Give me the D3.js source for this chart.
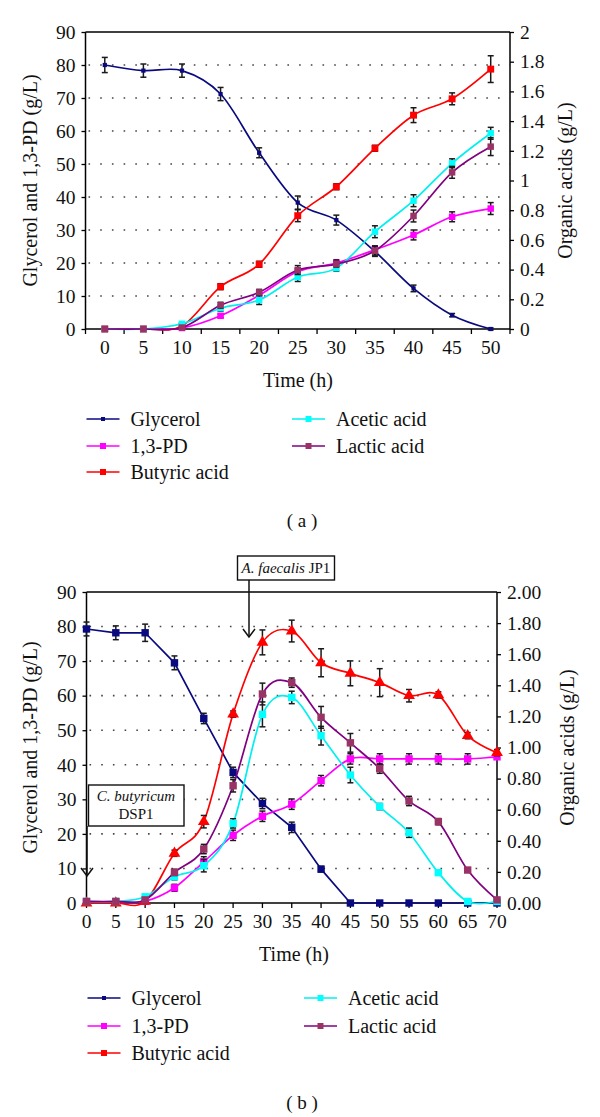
<!DOCTYPE html>
<html><head><meta charset="utf-8">
<script src="https://cdnjs.cloudflare.com/ajax/libs/d3/7.8.5/d3.min.js"></script>
<style>
html,body{margin:0;padding:0;background:#fff;}
svg text{font-family:"Liberation Serif","Times New Roman",serif;fill:#111;}
</style></head>
<body><svg id="c" width="600" height="1117"></svg>
<script>
// ---------- data: panel (a) ----------
const timesA = [0,5,10,15,20,25,30,35,40,45,50];
const glycerolA    = [80,78.3,78.3,71.2,53.4,38.3,33,23.5,12.3,4.2,0];
const glycerolAErr = [2.3,2,2,2,1.5,2,1.5,1.5,1,0.5,0.3];
const pdA          = [0,0,0.3,4,10.2,17.4,20,24,28.5,34,36.5];
const pdAErr       = [0,0,0,0.5,0.8,1,1,1.2,1.5,1.5,1.8];
const butyricA     = [0,0,0.02,0.285,0.436,0.763,0.958,1.217,1.44,1.55,1.75];
const butyricAErr  = [0,0,0,0.02,0.02,0.04,0.02,0.02,0.05,0.04,0.09];
const aceticA      = [0,0,0.035,0.14,0.195,0.35,0.41,0.655,0.864,1.116,1.318];
const aceticAErr   = [0,0,0,0.02,0.03,0.03,0.02,0.04,0.04,0.03,0.04];
const lacticA      = [0,0,0.01,0.16,0.247,0.397,0.437,0.527,0.761,1.055,1.228];
const lacticAErr   = [0,0,0,0.02,0.02,0.03,0.02,0.03,0.04,0.04,0.06];

// ---------- data: panel (b) ----------
const timesB = [0,5,10,15,20,25,30,35,40,45,50,55,60,65,70];
const glycerolB    = [79.3,78.2,78.2,69.5,53.4,37.8,28.8,21.9,9.8,0,0,0,0,0,0];
const glycerolBErr = [2,2,2.5,2,1.5,1.5,1.5,1.5,0.8,0,0,0,0,0,0];
const pdB          = [0.3,0.3,0.5,4.4,11.9,19.6,25.1,28.6,35.4,41.7,41.7,41.7,41.7,41.7,42.3];
const pdBErr       = [0,0,0.5,1,1.5,1.5,1.5,1.5,1.5,1.5,1.5,1.5,1.5,1.5,0];
const butyricB     = [0,0,0.01,0.32,0.523,1.215,1.676,1.749,1.545,1.477,1.417,1.333,1.338,1.076,0.967];
const butyricBErr  = [0,0,0,0.02,0.04,0.02,0.08,0.07,0.09,0.08,0.09,0.04,0.02,0.02,0.02];
const aceticB      = [0.01,0.01,0.04,0.169,0.24,0.512,1.213,1.322,1.076,0.823,0.62,0.452,0.195,0.01,0.01];
const aceticBErr   = [0,0,0,0.02,0.04,0.03,0.08,0.04,0.06,0.05,0.02,0.03,0.01,0,0];
const lacticB      = [0.01,0.01,0.02,0.197,0.347,0.754,1.344,1.417,1.194,1.03,0.864,0.656,0.523,0.212,0.02];
const lacticBErr   = [0,0,0,0.02,0.03,0.04,0.07,0.03,0.07,0.06,0.03,0.03,0.02,0.01,0];

const leftTicks = [0,10,20,30,40,50,60,70,80,90];
const rightTicksA = [0,0.2,0.4,0.6,0.8,1,1.2,1.4,1.6,1.8,2];
const rightTicksB = [0,0.2,0.4,0.6,0.8,1,1.2,1.4,1.6,1.8,2];
const seriesNames = ["Glycerol","1,3-PD","Butyric acid","Acetic acid","Lactic acid"];
const lineColors  = ["#0a0a80","#ff00ff","#ff0000","#00f0f0","#800080"];
const markColors  = ["#0a0a80","#ff00ff","#ff0000","#00ffff","#993366"];

const svg = d3.select("#c");
const FS = 19.5;
const TS = 20;

function panel(cfg){
  const g = svg.append("g");
  const yL = d3.scaleLinear().domain([0,90]).range([cfg.y1,cfg.y0]);
  const yR = d3.scaleLinear().domain([0,2]).range([cfg.y1,cfg.y0]);
  let xc;
  if(cfg.band){
    const xb = d3.scaleBand().domain(cfg.times).range([cfg.x0,cfg.x1]);
    xc = t => xb(t)+xb.bandwidth()/2;
    const tickPos = cfg.times.map(t=>xb(t)).concat([cfg.x1]);
    g.selectAll(".xt").data(tickPos).enter().append("line")
      .attr("x1",d=>d).attr("x2",d=>d).attr("y1",cfg.y1).attr("y2",cfg.y1+5)
      .attr("stroke","#000").attr("stroke-width",1.3);
  } else {
    const xp = d3.scalePoint().domain(cfg.times).range([cfg.x0,cfg.x1]);
    xc = t => xp(t);
    g.selectAll(".xt").data(cfg.times).enter().append("line")
      .attr("x1",d=>xp(d)).attr("x2",d=>xp(d)).attr("y1",cfg.y1).attr("y2",cfg.y1+5)
      .attr("stroke","#000").attr("stroke-width",1.3);
  }
  // gridlines
  g.selectAll(".gr").data(leftTicks.filter(d=>d>0&&d<90)).enter().append("line")
    .attr("x1",cfg.x0+3).attr("x2",cfg.x1).attr("y1",d=>yL(d)).attr("y2",d=>yL(d))
    .attr("stroke","#444").attr("stroke-width",1.6).attr("stroke-dasharray","1.6 10.1");
  // frame
  g.append("line").attr("x1",cfg.x0).attr("x2",cfg.x0).attr("y1",cfg.y0).attr("y2",cfg.y1).attr("stroke","#000").attr("stroke-width",1.5);
  g.append("line").attr("x1",cfg.x1).attr("x2",cfg.x1).attr("y1",cfg.y0).attr("y2",cfg.y1).attr("stroke","#000").attr("stroke-width",1.5);
  g.append("line").attr("x1",cfg.x0).attr("x2",cfg.x1).attr("y1",cfg.y0).attr("y2",cfg.y0).attr("stroke","#000").attr("stroke-width",1.3);
  g.append("line").attr("x1",cfg.x0).attr("x2",cfg.x1).attr("y1",cfg.y1).attr("y2",cfg.y1).attr("stroke","#000").attr("stroke-width",1.5);
  // left axis
  const la = g.append("g").attr("transform",`translate(${cfg.x0},0)`)
    .call(d3.axisLeft(yL).tickValues(leftTicks).tickSize(4).tickPadding(6));
  la.select(".domain").remove();
  la.selectAll("line").attr("stroke","#000").attr("stroke-width",1.3);
  la.selectAll("text").attr("font-size",FS).attr("font-family","Liberation Serif");
  // right axis
  const ra = g.append("g").attr("transform",`translate(${cfg.x1},0)`)
    .call(d3.axisRight(yR).tickValues(cfg.rTicks).tickSize(4).tickPadding(6).tickFormat(cfg.rFmt));
  ra.select(".domain").remove();
  ra.selectAll("line").attr("stroke","#000").attr("stroke-width",1.3);
  ra.selectAll("text").attr("font-size",FS).attr("font-family","Liberation Serif");
  // x labels
  g.selectAll(".xl").data(cfg.times).enter().append("text")
    .attr("x",d=>xc(d)).attr("y",cfg.y1+25).attr("text-anchor","middle")
    .attr("font-size",FS).text(d=>d);
  // axis titles
  g.append("text").attr("transform",`translate(${cfg.ltx},${(cfg.y0+cfg.y1)/2}) rotate(-90)`)
    .attr("text-anchor","middle").attr("dy","0.35em").attr("font-size",TS).text("Glycerol and 1,3-PD (g/L)");
  g.append("text").attr("transform",`translate(${cfg.rtx},${(cfg.y0+cfg.y1)/2}) rotate(-90)`)
    .attr("text-anchor","middle").attr("dy","0.35em").attr("font-size",TS).text("Organic acids (g/L)");
  g.append("text").attr("x",cfg.timeX).attr("y",cfg.timeY).attr("text-anchor","middle")
    .attr("font-size",TS).text("Time (h)");

  // series
  cfg.series.forEach((s,i)=>{
    const y = s.axis==="L" ? yL : yR;
    const pts = cfg.times.map((t,k)=>({x:xc(t), v:s.vals[k], e:s.err[k]}));
    const line = d3.line().x(d=>d.x).y(d=>y(d.v))
      .curve(s.smooth ? d3.curveCardinal.tension(0) : d3.curveLinear);
    g.append("path").datum(pts).attr("d",line).attr("fill","none")
      .attr("stroke",lineColors[i]).attr("stroke-width",1.7);
    const eb = g.append("g").attr("stroke","#1a1a1a").attr("stroke-width",1.5);
    pts.filter(d=>d.e>0).forEach(d=>{
      eb.append("line").attr("x1",d.x).attr("x2",d.x).attr("y1",y(d.v-d.e)).attr("y2",y(d.v+d.e));
      eb.append("line").attr("x1",d.x-3).attr("x2",d.x+3).attr("y1",y(d.v-d.e)).attr("y2",y(d.v-d.e));
      eb.append("line").attr("x1",d.x-3).attr("x2",d.x+3).attr("y1",y(d.v+d.e)).attr("y2",y(d.v+d.e));
    });
    const sym = d3.symbol().type(s.tri ? d3.symbolTriangle : d3.symbolSquare).size(s.msize);
    g.selectAll(null).data(pts).enter().append("path")
      .attr("d",sym).attr("transform",d=>`translate(${d.x},${y(d.v)})`)
      .attr("fill",markColors[i]);
  });

  // legend
  const lg = g.append("g");
  seriesNames.forEach((n,i)=>{
    const col = i<3 ? 0 : 1, row = i<3 ? i : i-3;
    const lx = cfg.legX[col], ly = cfg.legY[row];
    lg.append("line").attr("x1",lx).attr("x2",lx+33).attr("y1",ly).attr("y2",ly)
      .attr("stroke",lineColors[i]).attr("stroke-width",1.7);
    const sz = i===0 ? 4 : 6;
    lg.append("rect").attr("x",lx+16.5-sz/2).attr("y",ly-sz/2).attr("width",sz).attr("height",sz)
      .attr("fill",markColors[i]);
    lg.append("text").attr("x",lx+44).attr("y",ly).attr("dy","0.33em").attr("font-size",TS).text(n);
  });
  g.append("text").attr("x",cfg.labX).attr("y",cfg.labY).attr("text-anchor","middle")
    .attr("font-family","Liberation Sans, Arial, sans-serif").attr("font-size",19).text(cfg.label);
  return {g,xc,yL,yR};
}

panel({
  times: timesA, band: true, x0: 85.5, x1: 510, y0: 32, y1: 329,
  rTicks: rightTicksA, rFmt: d3.format("~g"), ltx: 30, rtx: 565,
  timeX: 298, timeY: 387,
  series: [
    {vals: glycerolA, err: glycerolAErr, axis:"L", smooth:true, msize:18},
    {vals: pdA, err: pdAErr, axis:"L", smooth:true, msize:42},
    {vals: butyricA, err: butyricAErr, axis:"R", smooth:true, msize:48},
    {vals: aceticA, err: aceticAErr, axis:"R", smooth:true, msize:42},
    {vals: lacticA, err: lacticAErr, axis:"R", smooth:true, msize:42}
  ],
  legX: [86.5, 292], legY: [419, 446, 472],
  label: "( a )", labX: 302, labY: 527
});

panel({
  times: timesB, band: false, x0: 86.5, x1: 497, y0: 592, y1: 903,
  rTicks: rightTicksB, rFmt: d3.format(".2f"), ltx: 30, rtx: 567,
  timeX: 294, timeY: 961,
  series: [
    {vals: glycerolB, err: glycerolBErr, axis:"L", smooth:false, msize:55},
    {vals: pdB, err: pdBErr, axis:"L", smooth:true, msize:55},
    {vals: butyricB, err: butyricBErr, axis:"R", smooth:true, msize:60, tri:true},
    {vals: aceticB, err: aceticBErr, axis:"R", smooth:true, msize:55},
    {vals: lacticB, err: lacticBErr, axis:"R", smooth:true, msize:55}
  ],
  legX: [87.5, 304], legY: [998, 1026, 1053],
  label: "( b )", labX: 302, labY: 1109
});

// annotations (panel b)
const an = svg.append("g");
function box(x,y,w,h){
  an.append("rect").attr("x",x).attr("y",y).attr("width",w).attr("height",h)
    .attr("fill","#fff").attr("stroke","#111").attr("stroke-width",1.4);
}
function arrow(x,ya,yb){
  an.append("line").attr("x1",x).attr("x2",x).attr("y1",ya).attr("y2",yb).attr("stroke","#111").attr("stroke-width",1.5);
  an.append("path").attr("d",`M${x-6},${yb-8} L${x},${yb} L${x+6},${yb-8}`)
    .attr("fill","none").attr("stroke","#111").attr("stroke-width",1.5);
}
arrow(249, 580, 637);
box(237.5, 556, 97, 24);
const t1 = an.append("text").attr("x",286).attr("y",573).attr("text-anchor","middle").attr("font-size",15);
t1.append("tspan").attr("font-style","italic").text("A. faecalis");
t1.append("tspan").text(" JP1");

arrow(87, 826, 876);
box(88.5, 785, 95.5, 41);
an.append("text").attr("x",136).attr("y",801).attr("text-anchor","middle").attr("font-size",15)
  .attr("font-style","italic").text("C. butyricum");
an.append("text").attr("x",136).attr("y",819).attr("text-anchor","middle").attr("font-size",15).text("DSP1");
</script></body></html>
